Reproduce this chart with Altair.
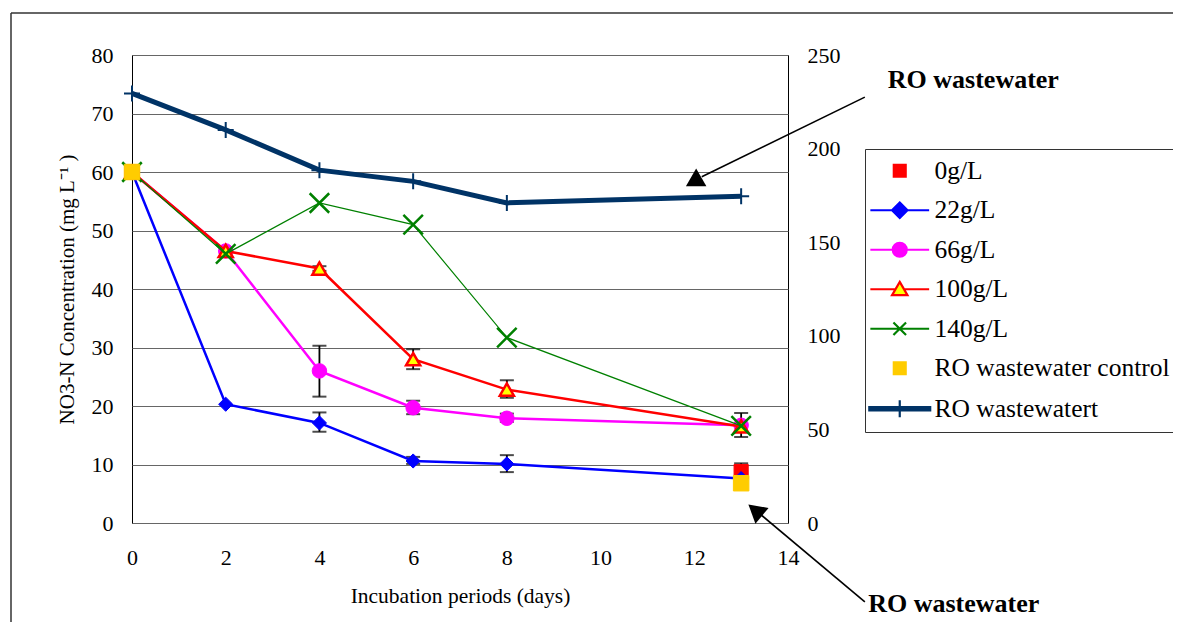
import altair as alt
import pandas as pd

# ---------------- data ----------------
days = [0, 2, 4, 6, 8, 13]
g22 = [60.0, 20.3, 17.1, 10.6, 10.1, 7.6]
g66 = [60.0, 46.5, 26.0, 19.7, 17.9, 16.7]
g100 = [60.0, 46.5, 43.5, 28.0, 22.8, 16.5]
g140 = [60.0, 46.0, 54.7, 51.0, 31.7, 16.6]
g0_days = [0, 13]
g0 = [60.0, 8.8]
ctrl_days = [0, 13]
ctrl = [60.0, 6.8]
ro = [229.5, 210.0, 188.5, 182.5, 171.0, 174.5]   # right axis

err_days = [4, 6, 8, 4, 6, 8, 4, 6, 8, 13, 13]
err_lo = [15.6, 10.1, 8.7, 21.6, 18.6, 17.3, 43.1, 26.3, 21.4, 14.7, 7.4]
err_hi = [18.9, 11.3, 11.6, 30.3, 20.9, 18.7, 43.9, 29.7, 24.4, 18.8, 10.2]

series_names = ["0g/L", "22g/L", "66g/L", "100g/L", "140g/L",
                "RO wastewater control", "RO wastewatert"]

# annotations (data coordinates)
note_text = ["RO wastewater", "RO wastewater"]
note_day = [16.13, 15.71]
note_val = [74.4, -15.2]
arrow_day = [15.64, 15.64]
arrow_val = [72.8, -13.5]
arrow_day2 = [12.16, 13.23]
arrow_val2 = [59.2, 2.7]
head_day = [12.04, 13.30]
head_val = [59.1, 2.2]
head_angle = [0, 310]

# ---------------- styles ----------------
RED = "#FF0000"; BLUE = "#0000FF"; MAG = "#FF00FF"; YEL = "#FFFF00"
GREEN = "#008000"; GOLD = "#FFCC00"; NAVY = "#003366"
SERIF = "Liberation Serif"
X_PATH = "M-1,-1L1,1M-1,1L1,-1"
PLUS_PATH = "M-1,0H1M0,-1V1"

legend_paths = [
    "M-0.85,-0.85H0.85V0.85H-0.85Z",
    "M-4.2,0H4.2M0,-1.1L1.1,0L0,1.1L-1.1,0Z",
    "M-4.2,0H4.2M1,0A1,1 0 1,1 -1,0A1,1 0 1,1 1,0Z",
    "M-4.2,0H-0.6M0.6,0H4.2M0,-1.05L1.1,0.85L-1.1,0.85Z",
    "M-4.2,0H4.2M-0.9,-0.9L0.9,0.9M-0.9,0.9L0.9,-0.9",
    "M-0.85,-0.85H0.85V0.85H-0.85Z",
    "M-4.35,-0.22H4.35V0.22H-4.35ZM0,-1.2V1.2",
]
legend_strokes = [RED, BLUE, MAG, RED, GREEN, GOLD, NAVY]
legend_fills = [RED, BLUE, MAG, YEL, "transparent", GOLD, NAVY]

x_axis = alt.Axis(values=list(range(0, 15, 2)), title="Incubation periods (days)",
                  grid=False, ticks=False, domain=False, labelPadding=24,
                  labelFlush=False, titlePadding=17, labelFont=SERIF, labelFontSize=22,
                  labelColor="black", titleFont=SERIF, titleFontSize=21.5,
                  titleFontWeight="normal", titleColor="black")
y_axis = alt.Axis(values=list(range(0, 81, 10)),
                  title="NO3-N Concentration (mg L\u207b\u00b9 )",
                  grid=True, gridColor="#666666", gridWidth=1, labelFlush=False,
                  ticks=False, domain=False, labelPadding=19, titlePadding=14,
                  labelFont=SERIF, labelFontSize=22, labelColor="black",
                  titleFont=SERIF, titleFontSize=21, titleFontWeight="normal",
                  titleColor="black")
r_axis = alt.Axis(orient="right", values=list(range(0, 251, 50)), title=None,
                  grid=False, ticks=False, domain=False, labelPadding=19,
                  labelFlush=False, labelFont=SERIF, labelFontSize=22, labelColor="black")


def X(field="day"):
    return alt.X(f"{field}:Q", scale=alt.Scale(domain=[0, 14], nice=False, zero=False), axis=x_axis)


def Y(field="value"):
    return alt.Y(f"{field}:Q", scale=alt.Scale(domain=[0, 80], nice=False), axis=y_axis)


def frame(d, v):
    return pd.DataFrame({"day": d, "value": v})


df22 = frame(days, g22)
df66 = frame(days, g66)
df100 = frame(days, g100)
df140 = frame(days, g140)
df0 = frame(g0_days, g0)
dfc = frame(ctrl_days, ctrl)
dfro = pd.DataFrame({"day": days, "ro": ro})
dferr = pd.DataFrame({"day": err_days, "lo": err_lo, "hi": err_hi})


def line(df, color, w):
    return alt.Chart(df).mark_line(color=color, strokeWidth=w, clip=False).encode(x=X(), y=Y())


def pts(df, shape, size, fill, stroke, sw, filled=True):
    return alt.Chart(df).mark_point(shape=shape, size=size, filled=filled, fill=fill,
                                    stroke=stroke, strokeWidth=sw, opacity=1,
                                    fillOpacity=1, clip=False).encode(x=X(), y=Y())


err_rule = alt.Chart(dferr).mark_rule(color="black", strokeWidth=1.8).encode(
    x=X(), y=Y("lo"), y2="hi")
err_lo_tick = alt.Chart(dferr).mark_tick(color="black", orient="horizontal", size=14,
                                         thickness=2).encode(x=X(), y=Y("lo"))
err_hi_tick = alt.Chart(dferr).mark_tick(color="black", orient="horizontal", size=14,
                                         thickness=2).encode(x=X(), y=Y("hi"))

# annotations
notes = pd.DataFrame({"day": note_day, "value": note_val, "label": note_text})
arrows = pd.DataFrame({"day": arrow_day, "value": arrow_val,
                       "day2": arrow_day2, "value2": arrow_val2})
heads = pd.DataFrame({"day": head_day, "value": head_val, "angle": head_angle})

note_layer = alt.Chart(notes).mark_text(align="left", baseline="alphabetic", font=SERIF,
                                        fontSize=26, fontWeight="bold", color="black",
                                        clip=False).encode(x=X(), y=Y(), text="label:N")
arrow_layer = alt.Chart(arrows).mark_rule(color="black", strokeWidth=1.6, clip=False).encode(
    x=X(), y=Y(), x2="day2:Q", y2="value2:Q")
head_layer = alt.Chart(heads).mark_point(shape="triangle-up", filled=True, color="black",
                                         size=420, opacity=1, clip=False).encode(
    x=X(), y=Y(), angle=alt.Angle("angle:Q", scale=None))

# legend (scales only, no marks drawn)
leg = alt.Legend(orient="none", legendX=733, legendY=94, title=None, padding=9,
                 strokeColor="#333333", fillColor="white", labelFont=SERIF,
                 labelFontSize=25.5, labelColor="black", symbolSize=196,
                 symbolStrokeWidth=2.2, symbolOffset=13, labelOffset=22,
                 symbolOpacity=1, rowPadding=12.5, labelLimit=500)
legend_layer = alt.Chart(pd.DataFrame({"series": series_names})).transform_filter(
    "false").mark_point(filled=False, opacity=1).encode(
    shape=alt.Shape("series:N", scale=alt.Scale(domain=series_names, range=legend_paths), legend=leg),
    stroke=alt.Stroke("series:N", scale=alt.Scale(domain=series_names, range=legend_strokes), legend=leg),
    fill=alt.Fill("series:N", scale=alt.Scale(domain=series_names, range=legend_fills), legend=leg),
)

# frame around the whole figure
frame_top = alt.Chart(pd.DataFrame({"k": [0]})).mark_rule(color="#333333", strokeWidth=1.5, clip=False).encode(
    x=alt.value(-121), x2=alt.value(1100), y=alt.value(-42))
frame_left = alt.Chart(pd.DataFrame({"k": [0]})).mark_rule(color="#333333", strokeWidth=1.5, clip=False).encode(
    x=alt.value(-121), y=alt.value(-42), y2=alt.value(620))

left = alt.layer(
    err_rule, err_lo_tick, err_hi_tick,
    pts(df0, "square", 200, RED, RED, 1),
    line(df22, BLUE, 2.5), pts(df22, "diamond", 200, BLUE, BLUE, 1),
    line(df66, MAG, 2.5), pts(df66, "circle", 210, MAG, MAG, 1),
    line(df100, RED, 2.5), pts(df100, "triangle-up", 200, YEL, RED, 2.5),
    line(df140, GREEN, 1.2), pts(df140, X_PATH, 380, "transparent", GREEN, 2.5, filled=False),
    pts(dfc, "square", 240, GOLD, GOLD, 1),
    note_layer, arrow_layer, head_layer,
    legend_layer, frame_top, frame_left,
)

ro_y = alt.Y("ro:Q", scale=alt.Scale(domain=[0, 250], nice=False), axis=r_axis)
right = alt.layer(
    alt.Chart(dfro).mark_line(color=NAVY, strokeWidth=5).encode(x=X(), y=ro_y),
    alt.Chart(dfro).mark_point(shape=PLUS_PATH, size=256, filled=False, color=NAVY,
                               strokeWidth=2, opacity=1).encode(x=X(), y=ro_y),
)

chart = alt.layer(left, right).resolve_scale(y="independent").properties(
    width=656, height=468,
    background="white",
    autosize=alt.AutoSizeParams(type="none"),
    padding={"left": 124, "top": 47, "right": 385, "bottom": 99},
).configure_view(stroke="black", strokeWidth=1).configure_axis(
    labelFont=SERIF, labelFontSize=22, labelColor="black",
    titleFont=SERIF, titleFontSize=20, titleFontWeight="normal", titleColor="black",
)

chart.save("out.html", embed_options={"renderer": "svg", "actions": False})
